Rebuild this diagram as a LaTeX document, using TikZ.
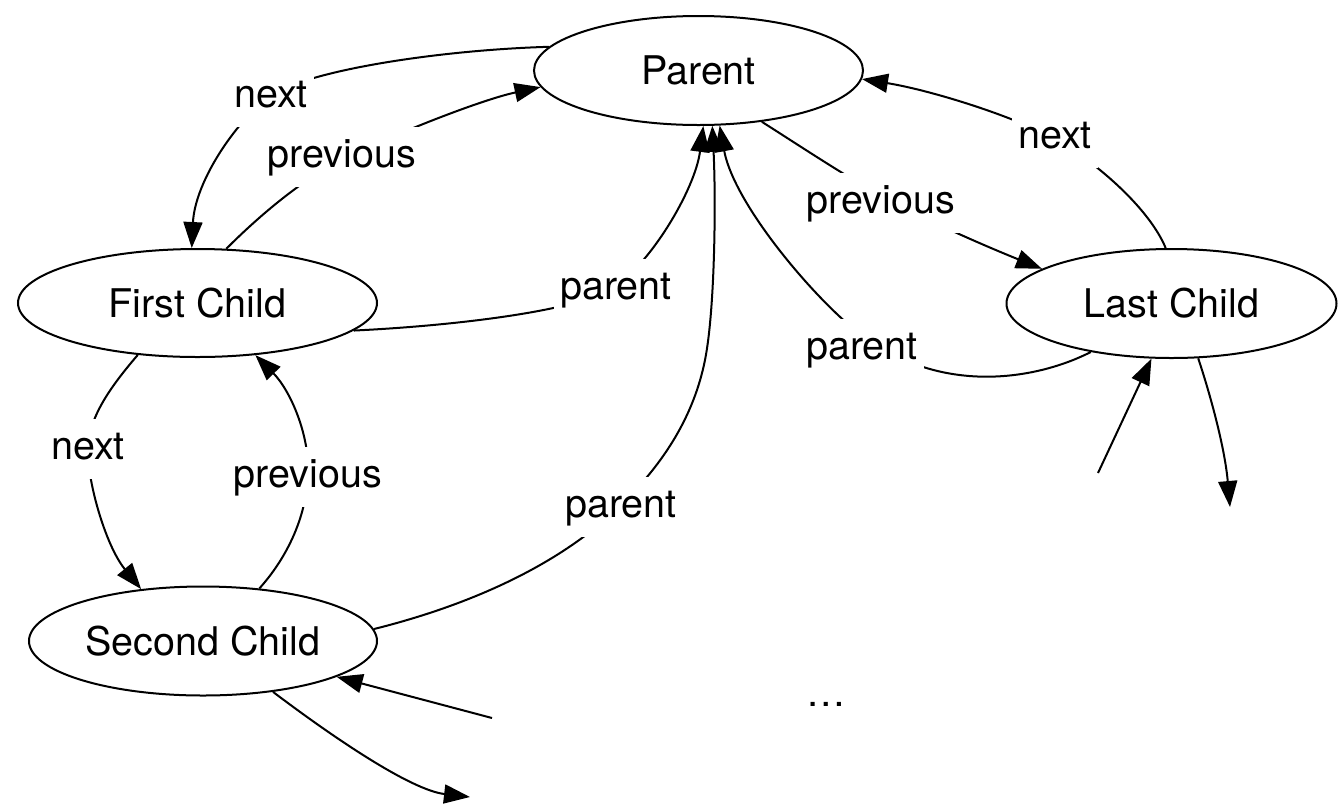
\documentclass[tikz,border=0pt]{standalone}
\usepackage{fontspec}
\setmainfont{TeX Gyre Heros}
\usetikzlibrary{shapes.geometric,arrows.meta}
\begin{document}
\begin{tikzpicture}[x=1pt,y=-1pt,
  every node/.style={font=\fontsize{39.5}{47}\selectfont},
  state/.style={draw, ellipse, line width=2pt, inner sep=0pt},
  link/.style={line width=2pt, -{Triangle[length=26pt,width=19pt]}},
  lbl/.style={fill=white, inner xsep=6pt, inner ysep=12pt, text height=28pt, text depth=8pt},
]
\useasboundingbox (0,0) rectangle (1339,807);
\fill[white] (0,0) rectangle (1339,807);

% tree nodes
\node[state, minimum width=329pt, minimum height=109pt] (P)  at (698.5,70.5) {Parent};
\node[state, minimum width=359pt, minimum height=108pt] (FC) at (197.5,303)  {First Child};
\node[state, minimum width=330pt, minimum height=109pt] (LC) at (1171.5,303.5) {Last Child};
\node[state, minimum width=348pt, minimum height=109pt] (SC) at (203,641)    {Second Child};

% loose ends towards further siblings
\coordinate (inS)  at (492,718);
\coordinate (outS) at (470,797);
\coordinate (inL)  at (1098,473);
\coordinate (outL) at (1230,507);

% parent <-> first child
\draw[link] (P.171) .. controls (440,50) and (310,70) .. (272,95)
            .. controls (239,117) and (195,180) .. (FC.96);
\draw[link] (FC.62) .. controls (255,220) and (300,180) .. (345,158)
            .. controls (390,136) and (480,100) .. (P.186);
\draw[link] (FC.350) .. controls (450,326) and (570,312) .. (610,290)
            .. controls (649,267) and (695,190) .. (P.275);

% second child -> parent
\draw[link] (SC.4) .. controls (470,605) and (560,565) .. (621,505)
            .. controls (665,462) and (694,415) .. (705,360)
            .. controls (715,310) and (716,200) .. (P.284);

% parent <-> last child
\draw[link] (P.321) .. controls (800,146) and (845,176) .. (885,198)
            .. controls (925,220) and (990,248) .. (LC.165);
\draw[link] (LC.96) .. controls (1150,210) and (1100,165) .. (1057,140)
            .. controls (1014,116) and (930,90) .. (P.357);
\draw[link] (LC.211) .. controls (1040,378) and (950,395) .. (872,342)
            .. controls (833,320) and (735,210) .. (P.291);

% first child <-> second child
\draw[link] (FC.221) .. controls (112,385) and (90,415) .. (88,446)
            .. controls (86,477) and (105,545) .. (SC.140);
\draw[link] (SC.43) .. controls (285,560) and (306,520) .. (308,475)
            .. controls (310,435) and (290,390) .. (FC.318);

% links to the following siblings
\draw[link] (inS) -- (SC.345);
\draw[link] (SC.324) .. controls (330,735) and (410,790) .. (outS);
\draw[link] (inL) -- (LC.250);
\draw[link] (LC.296) .. controls (1212,400) and (1225,450) .. (outL);

% edge labels
\node[lbl] (tNextA) at (271,97)  {next};
\node[lbl] (tPrevA) at (342,157) {previous};
\node[lbl] (tParA)  at (616,289) {parent};
\node[lbl] (tParB)  at (621,507) {parent};
\node[lbl] (tPrevB) at (881,203) {previous};
\node[lbl] (tNextB) at (1055,138) {next};
\node[lbl] (tParC)  at (862,349) {parent};
\node[lbl] (tNextC) at (88,449)  {next};
\node[lbl] (tPrevC) at (308,477) {previous};
\node[text height=28pt, text depth=8pt] (more) at (826,696) {…};
\end{tikzpicture}
\end{document}
